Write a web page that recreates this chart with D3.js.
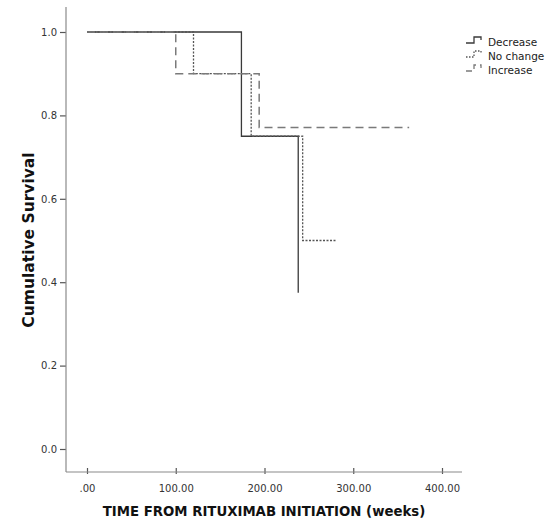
<!DOCTYPE html>
<html>
<head>
<meta charset="utf-8">
<script src="https://cdn.jsdelivr.net/npm/d3@7"></script>
<style>
  body { margin: 0; background: #fff; }
  text { font-family: "DejaVu Sans", "Liberation Sans", sans-serif; }
</style>
</head>
<body>
<script>
// survival data (weeks, cumulative survival)
var groups = ["Decrease", "No change", "Increase"];
var decreaseTimes = [0, 174, 238];
var decreaseSurv = [1, 0.75, 0.375];
var noChangeTimes = [0, 120, 185, 243, 281];
var noChangeSurv = [1, 0.9, 0.75, 0.5, 0.5];
var increaseTimes = [0, 100, 194, 363];
var increaseSurv = [1, 0.9, 0.771, 0.771];
var xTicks = [0, 100, 200, 300, 400];
var yTicks = [0, 0.2, 0.4, 0.6, 0.8, 1.0];

var width = 558;
var height = 523;

var svg = d3.select("body").append("svg")
    .attr("width", width)
    .attr("height", height);

// scales
var xScale = d3.scaleLinear().domain([0, 400]).range([87, 442]);
var yScale = d3.scaleLinear().domain([0, 1]).range([449, 32]);

var axisColor = "#8a8a8a";

// y axis
var yAxisGroup = svg.append("g")
    .attr("transform", "translate(66,0)")
    .call(d3.axisLeft(yScale).tickValues(yTicks).tickFormat(d3.format(".1f")).tickSize(6).tickSizeOuter(0));
yAxisGroup.select(".domain").remove();
svg.append("line")
    .attr("x1", 66).attr("x2", 66).attr("y1", 7).attr("y2", 472)
    .attr("stroke", axisColor).attr("stroke-width", 1.2);

// x axis
var xAxisGroup = svg.append("g")
    .attr("transform", "translate(0,472)")
    .call(d3.axisBottom(xScale).tickValues(xTicks).tickFormat(function (d) { return d === 0 ? ".00" : d.toFixed(2); }).tickSize(6).tickSizeOuter(0));
xAxisGroup.select(".domain").remove();
svg.append("line")
    .attr("x1", 66).attr("x2", 462).attr("y1", 472).attr("y2", 472)
    .attr("stroke", axisColor).attr("stroke-width", 1.2);

svg.selectAll(".tick line").attr("stroke", "#555").attr("stroke-width", 1.2);
svg.selectAll(".tick text").attr("fill", "#333").style("font-size", "10px");
xAxisGroup.selectAll(".tick line").attr("y1", -4).attr("y2", 2);
xAxisGroup.selectAll(".tick text").attr("y", 13);

// axis titles
svg.append("text")
    .attr("x", 264).attr("y", 516)
    .attr("text-anchor", "middle")
    .style("font-size", "13.3px").style("font-weight", "bold")
    .attr("fill", "#111")
    .text("TIME FROM RITUXIMAB INITIATION (weeks)");
svg.append("text")
    .attr("transform", "translate(34,240) rotate(-90)")
    .attr("text-anchor", "middle")
    .style("font-size", "15.5px").style("font-weight", "bold")
    .attr("fill", "#111")
    .text("Cumulative Survival");

// step curves
var line = d3.line()
    .x(function (d) { return xScale(d[0]); })
    .y(function (d) { return yScale(d[1]); })
    .curve(d3.curveStepAfter);

var series = [
  { name: groups[0], data: d3.zip(decreaseTimes, decreaseSurv), color: "#3a3a3a", dash: null, w: 1.3 },
  { name: groups[1], data: d3.zip(noChangeTimes, noChangeSurv), color: "#555", dash: "2,1.5", w: 1.3 },
  { name: groups[2], data: d3.zip(increaseTimes, increaseSurv), color: "#7a7a7a", dash: "8,5", w: 1.5 }
];

svg.selectAll(".km").data(series).enter().append("path")
    .attr("class", "km")
    .attr("d", function (d) { return line(d.data); })
    .attr("fill", "none")
    .attr("stroke", function (d) { return d.color; })
    .attr("stroke-width", function (d) { return d.w; })
    .attr("stroke-dasharray", function (d) { return d.dash; });

// legend
var legend = svg.append("g").attr("transform", "translate(466,42)");
var leg = legend.selectAll("g").data(series).enter().append("g")
    .attr("transform", function (d, i) { return "translate(0," + i * 14 + ")"; });
leg.append("path")
    .attr("d", "M0,1 H8 V-5 H15 V-2")
    .attr("fill", "none")
    .attr("stroke", function (d) { return d.color; })
    .attr("stroke-width", 1.3)
    .attr("stroke-dasharray", function (d) { return d.dash ? (d.dash === "8,5" ? "6,4" : "1.5,1.5") : null; });
leg.append("text")
    .attr("x", 22).attr("y", 4)
    .style("font-size", "10.5px")
    .attr("fill", "#222")
    .text(function (d) { return d.name; });
</script>
</body>
</html>
